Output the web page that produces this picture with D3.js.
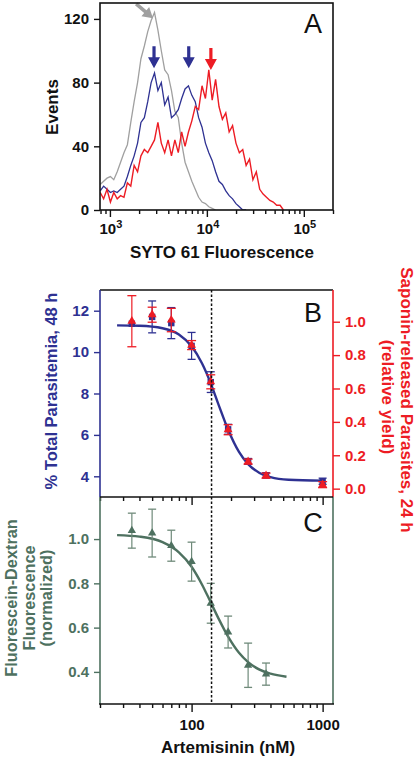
<!DOCTYPE html>
<html><head><meta charset="utf-8">
<script src="https://cdn.jsdelivr.net/npm/d3@7"></script>
<style>body{margin:0;background:#fff}svg{display:block;font-family:"Liberation Sans",Arial,Helvetica,sans-serif}</style>
</head><body><svg id="c" width="420" height="760"></svg>
<script>
// ---------- Panel A: flow cytometry histograms ----------
const histBins = [794,861,933,1012,1096,1189,1288,1396,1514,1641,1778,1928,2089,2265,2455,2661,2884,3126,3388,3673,3981,4315,4677,5070,5495,5957,6457,6998,7586,8222,8913,9661,10471,11350,12303,13335,14454,15668,16982,18408,19953,21627,23442,25410,27542,29854,32359,35075,38019,41210,44668,48417,52481,56885,61660];
const greyCounts = [16,18,20,21,19,24,30,36,41,55,68,80,95,103,112,119,124,113,100,88,85,75,62,58,42,30,24,18,13,8,5,4,2,1,0];
const blueCounts = [12,15,13,11,12,11,13,15,21,28,34,42,55,58,68,80,86,75,80,66,71,58,60,63,70,76,78,72,68,58,52,42,36,31,24,18,16,12,9,7,4,2,0,0];
const redCounts  = [11,7,13,5,11,7,9,8,17,15,28,24,34,38,36,40,44,55,42,36,44,34,44,36,49,40,49,56,65,63,78,70,88,69,82,65,57,61,49,53,42,36,38,28,32,19,24,13,10,8,6,5,3,3,0];
const histYTicks = [0,40,80,120];
const histXLabels = [1e3,1e4,1e5];
const blueArrowsAt = [2850,6500];
const redArrowAt = 11000;

// ---------- Panel B: parasitemia & saponin release ----------
const doses = [35,50,70,100,140,190,270,370,1000];
const parasitemia = [11.37,11.7,11.4,10.3,8.55,6.27,4.72,4.05,3.76];
const parasitemiaErr = [0,0.77,0.75,0.65,0.5,0.24,0.14,0.12,0.15];
const saponinYield = [1.003,1.042,1.01,0.86,0.64,0.353,0.162,0.078,0.024];
const saponinErr = [0.153,0.045,0.07,0.027,0.042,0.03,0.015,0.015,0.018];
const fitDoseB = [27,40,60,80,100,120,140,160,190,230,270,330,400,550,1000];
const fitParasitemia = [11.29,11.27,11.15,10.85,10.28,9.46,8.49,7.49,6.25,5.18,4.59,4.16,3.96,3.83,3.79];
const leftTicksB = [4,6,8,10,12];
const rightTicksB = [0,0.2,0.4,0.6,0.8,1.0];

// ---------- Panel C: fluorescein-dextran ----------
const dexDoses = [35,50,70,100,140,190,270,370];
const dextran = [1.038,1.027,0.97,0.898,0.71,0.58,0.43,0.39];
const dextranErr = [0.079,0.108,0.07,0.088,0.09,0.072,0.1,0.05];
const fitDoseC = [27,40,60,80,100,120,140,160,190,230,270,330,400,530];
const fitDextran = [1.018,1.011,0.986,0.94,0.875,0.795,0.714,0.643,0.559,0.486,0.444,0.41,0.392,0.378];
const ticksC = [0.4,0.6,0.8,1.0];
const ic50 = 142;

const BLUE='#2e3192', RED='#ed1c24', GREEN='#4e7160', GREY='#a0a0a0', BLACK='#111';
const TICKFS = 15, TITLEFS = 17;
const svg = d3.select('#c');

function styleAxis(g, color){
  g.select('.domain').remove();
  g.selectAll('line').attr('stroke', color).attr('stroke-width',1.4);
  g.selectAll('text').attr('fill', color).attr('font-size',TICKFS).attr('font-weight','bold')
   .attr('font-family','"Liberation Sans", Arial, sans-serif');
}

// ===== Panel A =====
const xA = d3.scaleLog().domain([790,200000]).range([100,333]);
const yA = d3.scaleLinear().domain([0,130]).range([210,3]);
const gA = svg.append('g');
const clipA = svg.append('clipPath').attr('id','clipA');
clipA.append('rect').attr('x',100).attr('y',3).attr('width',233).attr('height',207);
const lineA = d3.line().x(d=>xA(d[0])).y(d=>yA(d[1]));
function series(counts){ return counts.map((c,i)=>[histBins[i],c]); }
const plotA = gA.append('g').attr('clip-path','url(#clipA)');
plotA.append('path').attr('d',lineA(series(greyCounts))).attr('fill','none').attr('stroke',GREY).attr('stroke-width',1.3);
plotA.append('path').attr('d',lineA(series(blueCounts))).attr('fill','none').attr('stroke',BLUE).attr('stroke-width',1.3);
plotA.append('path').attr('d',lineA(series(redCounts))).attr('fill','none').attr('stroke',RED).attr('stroke-width',1.4);

function downArrow(x, yTip, color){
  const p = `M${x-1.6},${yTip-22} L${x+1.6},${yTip-22} L${x+1.6},${yTip-11} L${x+6},${yTip-11} L${x},${yTip} L${x-6},${yTip-11} L${x-1.6},${yTip-11} Z`;
  gA.append('path').attr('d',p).attr('fill',color);
}
blueArrowsAt.forEach(v=>downArrow(xA(v), yA(89), BLUE));
downArrow(xA(redArrowAt), yA(88), RED);
{
  const tx = xA(2780), ty = yA(120.5);
  const g = gA.append('g').attr('transform',`translate(${tx},${ty}) rotate(${-50})`);
  g.append('path').attr('d','M-1.8,-22 L1.8,-22 L1.8,-10 L6,-10 L0,0 L-6,-10 L-1.8,-10 Z').attr('fill',GREY);
}

gA.append('rect').attr('x',100).attr('y',3).attr('width',233).attr('height',207)
  .attr('fill','none').attr('stroke',BLACK).attr('stroke-width',1.6);
const ayA = gA.append('g').attr('transform','translate(100,0)')
  .call(d3.axisLeft(yA).tickValues(histYTicks).tickSize(6).tickPadding(5));
styleAxis(ayA, BLACK);
const axA = gA.append('g').attr('transform','translate(0,210)')
  .call(d3.axisBottom(xA).tickValues(xA.ticks()).tickSize(4).tickFormat(''));
styleAxis(axA, BLACK);
axA.selectAll('.tick').filter(d=>histXLabels.includes(d)).select('line').attr('y2',7);
histXLabels.forEach(v=>{
  const t = gA.append('text').attr('x',xA(v)+1).attr('y',234).attr('text-anchor','middle')
    .attr('font-size',TICKFS).attr('font-weight','bold').attr('fill',BLACK);
  t.append('tspan').text('10');
  t.append('tspan').attr('font-size',11).attr('dy',-6).text(String(Math.round(Math.log10(v))));
});
gA.append('text').attr('x',222).attr('y',258).attr('text-anchor','middle').attr('font-size',TITLEFS)
  .attr('font-weight','bold').attr('fill',BLACK).text('SYTO 61 Fluorescence');
gA.append('text').attr('transform','translate(58,107) rotate(-90)').attr('text-anchor','middle')
  .attr('font-size',TITLEFS).attr('font-weight','bold').attr('fill',BLACK).text('Events');
gA.append('text').attr('x',313).attr('y',33).attr('text-anchor','middle').attr('font-size',27).attr('fill',BLACK).text('A');

// ===== Panels B & C shared x =====
const xB = d3.scaleLog().domain([20,1200]).range([100,333]);
const yBL = d3.scaleLinear().domain([3,13]).range([497,290]);
const yBR = d3.scaleLinear().domain([-0.05,1.19]).range([497,290]);
const yC = d3.scaleLinear().domain([0.255,1.19]).range([704,497]);
const gB = svg.append('g');
const gC = svg.append('g');

svg.append('line').attr('x1',xB(ic50)).attr('x2',xB(ic50)).attr('y1',290).attr('y2',704)
  .attr('stroke',BLACK).attr('stroke-width',1.5).attr('stroke-dasharray','2.5,2');

const curveB = d3.line().x(d=>xB(d[0])).y(d=>yBL(d[1])).curve(d3.curveMonotoneX);
gB.append('path').attr('d',curveB(fitDoseB.map((d,i)=>[d,fitParasitemia[i]])))
  .attr('fill','none').attr('stroke',BLUE).attr('stroke-width',2.4);

function errBars(g, xs, ys, es, xsc, ysc, color, cap){
  xs.forEach((d,i)=>{
    if(!es[i]) return;
    const x = xsc(d), y1 = ysc(ys[i]-es[i]), y2 = ysc(ys[i]+es[i]);
    g.append('line').attr('x1',x).attr('x2',x).attr('y1',y1).attr('y2',y2).attr('stroke',color).attr('stroke-width',1.2);
    [y1,y2].forEach(y=>g.append('line').attr('x1',x-cap).attr('x2',x+cap).attr('y1',y).attr('y2',y).attr('stroke',color).attr('stroke-width',1.3));
  });
}
errBars(gB, doses, parasitemia, parasitemiaErr, xB, yBL, BLUE, 4);
gB.selectAll('rect.sq').data(doses).join('rect').attr('class','sq')
  .attr('x',(d)=>xB(d)-3.2).attr('y',(d,i)=>yBL(parasitemia[i])-3.2).attr('width',6.4).attr('height',6.4).attr('fill',BLUE);
errBars(gB, doses, saponinYield, saponinErr, xB, yBR, RED, 4.5);
const tri = d3.symbol().type(d3.symbolTriangle).size(34);
gB.selectAll('path.tr').data(doses).join('path').attr('class','tr').attr('d',tri)
  .attr('transform',(d,i)=>`translate(${xB(d)},${yBR(saponinYield[i])})`).attr('fill',RED);

gB.append('line').attr('x1',100).attr('x2',333).attr('y1',290).attr('y2',290).attr('stroke',BLACK).attr('stroke-width',1.6);
gB.append('line').attr('x1',100).attr('x2',100).attr('y1',290).attr('y2',497).attr('stroke',BLUE).attr('stroke-width',1.6);
gB.append('line').attr('x1',333).attr('x2',333).attr('y1',290).attr('y2',497).attr('stroke',RED).attr('stroke-width',1.6);
const ayBL = gB.append('g').attr('transform','translate(100,0)')
  .call(d3.axisLeft(yBL).tickValues(leftTicksB).tickSize(6).tickPadding(5));
styleAxis(ayBL, BLUE);
const ayBR = gB.append('g').attr('transform','translate(333,0)')
  .call(d3.axisRight(yBR).tickValues(rightTicksB).tickFormat(d3.format('.1f')).tickSize(7).tickPadding(5));
styleAxis(ayBR, RED);
const axB = gB.append('g').attr('transform','translate(0,497)')
  .call(d3.axisBottom(xB).tickValues(xB.ticks()).tickSize(4).tickFormat(''));
styleAxis(axB, BLACK);
axB.selectAll('.tick').filter(d=>d===100||d===1000).select('line').attr('y2',8);
gB.append('text').attr('x',313).attr('y',322).attr('text-anchor','middle').attr('font-size',27).attr('fill',BLACK).text('B');
gB.append('text').attr('transform','translate(57,391) rotate(-90)').attr('text-anchor','middle')
  .attr('font-size',16.5).attr('font-weight','bold').attr('fill',BLUE).text('% Total Parasitemia, 48 h');
gB.append('text').attr('transform','translate(401,400) rotate(90)').attr('text-anchor','middle')
  .attr('font-size',TITLEFS).attr('font-weight','bold').attr('fill',RED).text('Saponin-released Parasites, 24 h');
gB.append('text').attr('transform','translate(382,397) rotate(90)').attr('text-anchor','middle')
  .attr('font-size',TITLEFS).attr('font-weight','bold').attr('fill',RED).text('(relative yield)');

// ===== Panel C =====
const curveC = d3.line().x(d=>xB(d[0])).y(d=>yC(d[1])).curve(d3.curveMonotoneX);
gC.append('path').attr('d',curveC(fitDoseC.map((d,i)=>[d,fitDextran[i]])))
  .attr('fill','none').attr('stroke',GREEN).attr('stroke-width',2.4);
errBars(gC, dexDoses, dextran, dextranErr, xB, yC, '#6f8a7a', 4);
gC.selectAll('path.tr').data(dexDoses).join('path').attr('class','tr').attr('d',d3.symbol().type(d3.symbolTriangle).size(30))
  .attr('transform',(d,i)=>`translate(${xB(d)},${yC(dextran[i])})`).attr('fill',GREEN);
gC.append('line').attr('x1',100).attr('x2',100).attr('y1',497).attr('y2',704).attr('stroke',GREEN).attr('stroke-width',1.6);
gC.append('line').attr('x1',333).attr('x2',333).attr('y1',497).attr('y2',704).attr('stroke',GREEN).attr('stroke-width',1.6);
gC.append('line').attr('x1',100).attr('x2',333).attr('y1',497).attr('y2',497).attr('stroke',BLACK).attr('stroke-width',1.6);
gC.append('line').attr('x1',99).attr('x2',334).attr('y1',704).attr('y2',704).attr('stroke',BLACK).attr('stroke-width',1.6);
const ayC = gC.append('g').attr('transform','translate(100,0)')
  .call(d3.axisLeft(yC).tickValues(ticksC).tickFormat(d3.format('.1f')).tickSize(6).tickPadding(5));
styleAxis(ayC, GREEN);
const axC = gC.append('g').attr('transform','translate(0,704)')
  .call(d3.axisBottom(xB).tickValues(xB.ticks()).tickSize(4).tickPadding(11)
    .tickFormat(d=>(d===100||d===1000)?String(d):''));
styleAxis(axC, BLACK);
axC.selectAll('.tick').filter(d=>d===100||d===1000).select('line').attr('y2',8);
gC.append('text').attr('x',228).attr('y',532).attr('text-anchor','middle').attr('font-size',27).attr('fill',BLACK).attr('x',313).text('C');
gC.append('text').attr('x',228).attr('y',753).attr('text-anchor','middle').attr('font-size',TITLEFS)
  .attr('font-weight','bold').attr('fill',BLACK).text('Artemisinin (nM)');
const labC = gC.append('text').attr('transform','translate(0,598) rotate(-90)').attr('text-anchor','middle')
  .attr('font-size',16.3).attr('font-weight','bold').attr('fill',GREEN);
[['Fluorescein-Dextran',17],['Fluorescence',35],['(normalized)',52]].forEach(([t,b])=>{
  labC.append('tspan').attr('x',0).attr('y',b).text(t);
});
</script></body></html>
